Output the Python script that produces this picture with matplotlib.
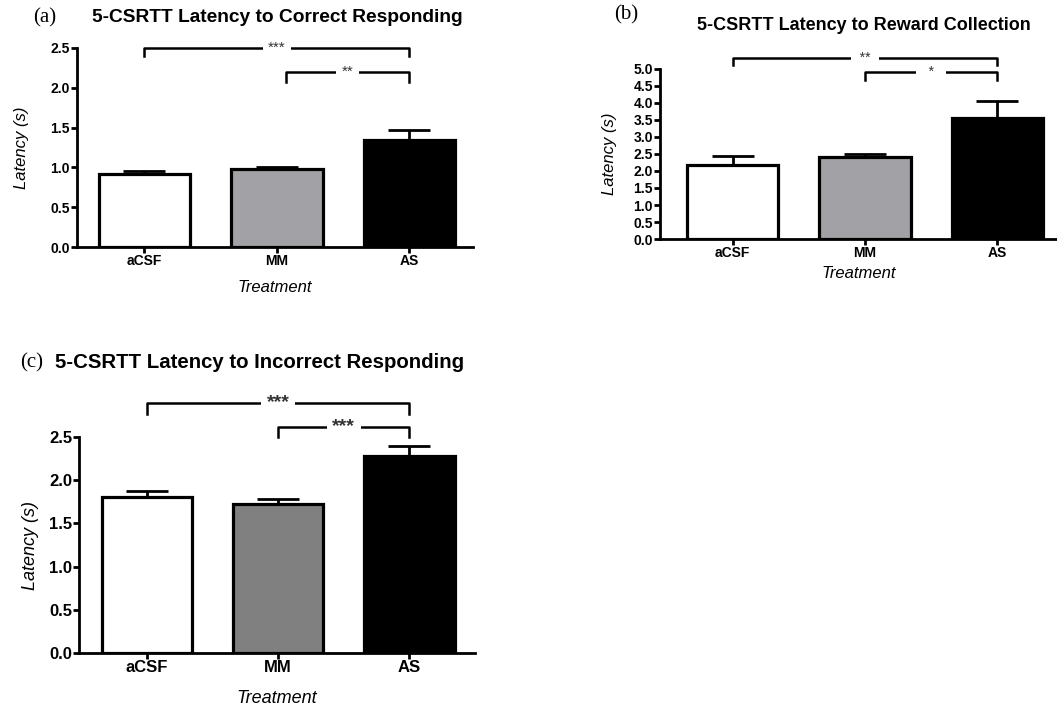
import numpy as np
import matplotlib
matplotlib.use("Agg")
import matplotlib.pyplot as plt

plt.rcParams['font.family'] = ['Liberation Sans', 'DejaVu Sans']

groups = ["aCSF", "MM", "AS"]

# (a) latency to correct responding
correct_mean = [0.92, 0.98, 1.34]
correct_sem = [0.04, 0.03, 0.135]
# (b) latency to reward collection
reward_mean = [2.18, 2.40, 3.57]
reward_sem = [0.26, 0.10, 0.50]
# (c) latency to incorrect responding
incorrect_mean = [1.81, 1.73, 2.28]
incorrect_sem = [0.065, 0.05, 0.12]


def bar_panel(ax, means, sems, mm_color, ymax, ystep, fs):
    x = np.arange(len(groups))
    colors = ["white", mm_color, "black"]
    ax.errorbar(x, means, yerr=[[0] * len(x), sems], fmt="none",
                ecolor="black", elinewidth=2, capsize=15, capthick=2, zorder=1)
    ax.bar(x, means, width=0.69, color=colors, edgecolor="black",
           linewidth=2.3, zorder=2)
    ax.set_ylim(0, ymax)
    ticks = np.arange(0, ymax + 0.001, ystep)
    ax.set_yticks(ticks)
    ax.set_yticklabels([f"{v:.1f}" for v in ticks])
    ax.set_xticks(x)
    ax.set_xticklabels(groups)
    for s in ["top", "right"]:
        ax.spines[s].set_visible(False)
    for s in ["left", "bottom"]:
        ax.spines[s].set_linewidth(2)
    ax.tick_params(width=2, length=4, labelsize=fs, pad=1)
    for lbl in ax.get_xticklabels() + ax.get_yticklabels():
        lbl.set_fontweight("bold")


def bracket(ax, x0, x1, y, ydrop, label, fs, weight="normal", pad=4):
    ax.plot([x0, x0, x1, x1], [y - ydrop, y, y, y - ydrop], color="black",
            lw=1.8, clip_on=False, zorder=3)
    ax.text((x0 + x1) / 2, y, label, ha="center", va="center", fontsize=fs,
            fontweight=weight, color="#333333", clip_on=False, zorder=4,
            bbox=dict(facecolor="white", edgecolor="none", pad=pad))


fig = plt.figure(figsize=(10.57, 7.09), dpi=100)

# (a)
ax_a = fig.add_axes([0.0728, 0.6516, 0.3746, 0.2807])
bar_panel(ax_a, correct_mean, correct_sem, "#a2a2a6", 2.5, 0.5, 10)
ax_a.set_xlim(-0.51, 2.48)
ax_a.set_ylabel("Latency (s)", style="italic", fontsize=12)
ax_a.yaxis.set_label_coords(-0.122, 0.5)
ax_a.set_xlabel("Treatment", style="italic", fontsize=12)
ax_a.xaxis.set_label_coords(0.5, -0.165)
bracket(ax_a, 0, 2, 2.5, 0.1, "***", 11)
bracket(ax_a, 1.07, 2, 2.2, 0.13, "**", 11)
fig.text(277 / 1057, 1 - 18 / 709, "5-CSRTT Latency to Correct Responding",
         ha="center", va="center", fontsize=13.8, fontweight="bold")
fig.text(45 / 1057, 1 - 18 / 709, "(a)", ha="center", va="center",
         fontsize=15, family="Liberation Serif")

# (b)
ax_b = fig.add_axes([0.6244, 0.6629, 0.3756, 0.2398])
bar_panel(ax_b, reward_mean, reward_sem, "#a2a2a6", 5.0, 0.5, 10)
ax_b.set_xlim(-0.55, 2.45)
ax_b.set_ylabel("Latency (s)", style="italic", fontsize=12)
ax_b.yaxis.set_label_coords(-0.108, 0.5)
ax_b.set_xlabel("Treatment", style="italic", fontsize=12)
ax_b.xaxis.set_label_coords(0.5, -0.16)
bracket(ax_b, 0, 2, 5.32, 0.2, "  **  ", 10, pad=0.5)
bracket(ax_b, 1, 2, 4.91, 0.23, "   *   ", 10, pad=0.5)
fig.text(864 / 1057, 1 - 25 / 709, "5-CSRTT Latency to Reward Collection",
         ha="center", va="center", fontsize=13, fontweight="bold")
fig.text(626 / 1057, 1 - 15 / 709, "(b)", ha="center", va="center",
         fontsize=15, family="Liberation Serif")

# (c)
ax_c = fig.add_axes([0.0747, 0.0790, 0.3746, 0.3046])
bar_panel(ax_c, incorrect_mean, incorrect_sem, "#808080", 2.5, 0.5, 12)
ax_c.set_xlim(-0.52, 2.5)
ax_c.set_ylabel("Latency (s)", style="italic", fontsize=13)
ax_c.yaxis.set_label_coords(-0.10, 0.5)
ax_c.set_xlabel("Treatment", style="italic", fontsize=13)
ax_c.xaxis.set_label_coords(0.5, -0.172)
bracket(ax_c, 0, 2, 2.897, 0.13, "***", 14, "bold")
bracket(ax_c, 1, 2, 2.619, 0.12, "***", 14, "bold")
fig.text(55 / 1057, 1 - 363 / 709, "5-CSRTT Latency to Incorrect Responding",
         ha="left", va="center", fontsize=14.7, fontweight="bold")
fig.text(32 / 1057, 1 - 363 / 709, "(c)", ha="center", va="center",
         fontsize=15, family="Liberation Serif")

fig.savefig("out.png", dpi=100)
